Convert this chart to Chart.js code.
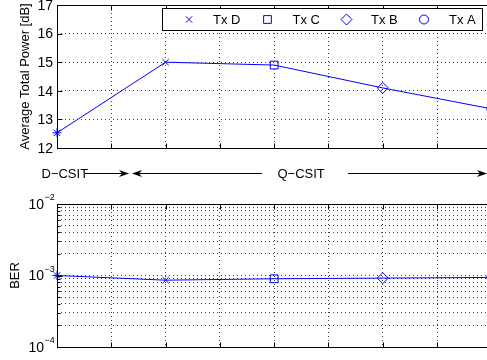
<!DOCTYPE html>
<html>
<head>
<meta charset="utf-8">
<script src="https://cdn.jsdelivr.net/npm/chart.js@4.4.0/dist/chart.umd.min.js"></script>
<style>
  body { margin: 0; background: #fff; }
  canvas { display: block; }
</style>
</head>
<body>
<canvas id="powerChart" width="487" height="190"></canvas>
<canvas id="berChart" width="487" height="170"></canvas>
<script>
// dados
const positions = [0, 2, 4, 6, 8];
const powerDb = [12.53, 15.0, 14.9, 14.1, 13.37];
const berValues = [1.0e-3, 8.6e-4, 9.0e-4, 9.2e-4, 9.4e-4];
const markerStyles = ['star', 'crossRot', 'rect', 'rectRot', 'circle'];
const markerSizes = [4.5, 4.5, 5.5, 5.5, 4.5];
const legendNames = ['Tx D', 'Tx C', 'Tx B', 'Tx A'];
const legendStyles = ['crossRot', 'rect', 'rectRot', 'circle'];
const legendSizes = [4.5, 5.5, 5.5, 4.5];
const xGrid = [0, 1, 2, 3, 4, 5, 6, 7];
const powerTicks = [12, 13, 14, 15, 16, 17];
const berMajor = [1e-4, 1e-3, 1e-2];
const berExp = ['−4', '−3', '−2'];
const berGrid = [1e-4, 2e-4, 3e-4, 4e-4, 5e-4, 6e-4, 7e-4, 8e-4, 9e-4,
                 1e-3, 2e-3, 3e-3, 4e-3, 5e-3, 6e-3, 7e-3, 8e-3, 9e-3, 1e-2];

const blue = '#0000ff';
const fontFamily = '"Liberation Sans", Arial, Helvetica, sans-serif';
const gridOpts = { color: 'rgba(0,0,0,0.75)', lineWidth: 1, drawTicks: false };
const borderOpts = { display: false, dash: [1, 3] };

// caixa do eixo com marcas para dentro (estilo MATLAB)
function drawFrame(chart, yMajor, yMinor) {
    const { ctx, chartArea: a, scales } = chart;
    const L = Math.round(a.left) + 0.5;
    const T = Math.round(a.top) + 0.5;
    const B = Math.round(a.bottom) + 0.5;
    const R = a.right + 5;
    ctx.save();
    ctx.strokeStyle = '#000';
    ctx.lineWidth = 1;
    ctx.beginPath();
    ctx.moveTo(R, T); ctx.lineTo(L, T); ctx.lineTo(L, B); ctx.lineTo(R, B);
    xGrid.forEach(v => {
        const x = Math.round(scales.x.getPixelForValue(v)) + 0.5;
        ctx.moveTo(x, T); ctx.lineTo(x, T + 5);
        ctx.moveTo(x, B); ctx.lineTo(x, B - 5);
    });
    yMajor.forEach(v => {
        const y = Math.round(scales.y.getPixelForValue(v)) + 0.5;
        ctx.moveTo(L, y); ctx.lineTo(L + 5, y);
    });
    yMinor.forEach(v => {
        const y = Math.round(scales.y.getPixelForValue(v)) + 0.5;
        ctx.moveTo(L, y); ctx.lineTo(L + 3, y);
    });
    ctx.stroke();
    ctx.restore();
}

function drawArrow(ctx, x1, x2, y) {
    const dir = Math.sign(x2 - x1);
    ctx.beginPath();
    ctx.moveTo(x1, y);
    ctx.lineTo(x2 - dir * 7, y);
    ctx.stroke();
    ctx.beginPath();
    ctx.moveTo(x2, y);
    ctx.lineTo(x2 - dir * 10, y - 3.5);
    ctx.lineTo(x2 - dir * 7, y);
    ctx.lineTo(x2 - dir * 10, y + 3.5);
    ctx.closePath();
    ctx.fill();
}

const powerPlugin = {
    id: 'powerDecor',
    afterDraw(chart) {
        const { ctx, scales } = chart;
        drawFrame(chart, powerTicks, []);
        ctx.save();
        ctx.fillStyle = '#000';
        ctx.font = '14px ' + fontFamily;
        ctx.textAlign = 'right';
        ctx.textBaseline = 'middle';
        powerTicks.forEach(v => {
            ctx.fillText(String(v), 53, scales.y.getPixelForValue(v) + 1);
        });

        // título do eixo y
        ctx.save();
        ctx.translate(25, (chart.chartArea.top + chart.chartArea.bottom) / 2);
        ctx.rotate(-Math.PI / 2);
        ctx.font = '13px ' + fontFamily;
        ctx.textAlign = 'center';
        ctx.fillText('Average Total Power [dB]', 0, 0);
        ctx.restore();

        // legenda
        ctx.fillStyle = '#fff';
        ctx.fillRect(162, 8, 320, 22);
        ctx.strokeStyle = '#000';
        ctx.lineWidth = 1;
        ctx.strokeRect(162.5, 8.5, 320, 22);
        const markX = [189, 267.5, 346.5, 424];
        const textX = [213, 292.5, 371, 449];
        ctx.font = '13px ' + fontFamily;
        ctx.textAlign = 'left';
        legendNames.forEach((name, i) => {
            ctx.strokeStyle = blue;
            ctx.fillStyle = 'rgba(0,0,0,0)';
            Chart.helpers.drawPoint(ctx, {
                pointStyle: legendStyles[i], radius: legendSizes[i], rotation: 0, borderWidth: 1
            }, markX[i], 19.5);
            ctx.fillStyle = '#000';
            ctx.fillText(name, textX[i], 20);
        });

        // anotações D-CSIT / Q-CSIT
        ctx.fillStyle = '#000';
        ctx.strokeStyle = '#000';
        ctx.fillText('D−CSIT', 41.5, 174);
        ctx.fillText('Q−CSIT', 277.5, 174);
        drawArrow(ctx, 85, 129, 173.5);
        drawArrow(ctx, 262, 132, 173.5);
        drawArrow(ctx, 348, 487, 173.5);
        ctx.restore();
    }
};

const berPlugin = {
    id: 'berDecor',
    afterDraw(chart) {
        const { ctx, scales } = chart;
        drawFrame(chart, berMajor, berGrid);
        ctx.save();
        ctx.fillStyle = '#000';
        ctx.textBaseline = 'middle';
        berMajor.forEach((v, i) => {
            const y = scales.y.getPixelForValue(v);
            ctx.font = '14px ' + fontFamily;
            ctx.textAlign = 'right';
            ctx.fillText('10', 44, y + 1);
            ctx.font = '9px ' + fontFamily;
            ctx.textAlign = 'left';
            ctx.fillText(berExp[i], 44.5, y - 6);
        });
        ctx.save();
        ctx.translate(15, (chart.chartArea.top + chart.chartArea.bottom) / 2);
        ctx.rotate(-Math.PI / 2);
        ctx.font = '13px ' + fontFamily;
        ctx.textAlign = 'center';
        ctx.fillText('BER', 0, 0);
        ctx.restore();
        ctx.restore();
    }
};

function baseDataset(values) {
    return {
        data: positions.map((x, i) => ({ x: x, y: values[i] })),
        showLine: true,
        borderColor: blue,
        borderWidth: 1,
        tension: 0,
        pointStyle: markerStyles,
        pointRadius: markerSizes,
        pointBorderColor: blue,
        pointBackgroundColor: 'rgba(0,0,0,0)',
        pointBorderWidth: 1,
        clip: false,
    };
}

function xScale(bottomSpace) {
    return {
        type: 'linear',
        min: 0,
        max: 7.92,
        afterBuildTicks: s => { s.ticks = xGrid.map(v => ({ value: v })); },
        afterFit: s => { s.height = bottomSpace; },
        ticks: { display: false },
        grid: gridOpts,
        border: borderOpts,
    };
}

new Chart(document.querySelector('#powerChart').getContext('2d'), {
    type: 'scatter',
    data: { datasets: [baseDataset(powerDb)] },
    options: {
        responsive: false,
        devicePixelRatio: 1,
        animation: false,
        layout: { autoPadding: false, padding: { left: 0, top: 5, right: 0, bottom: 0 } },
        plugins: { legend: { display: false }, tooltip: { enabled: false } },
        scales: {
            x: xScale(42),
            y: {
                type: 'linear',
                min: 12,
                max: 17,
                afterBuildTicks: s => { s.ticks = powerTicks.map(v => ({ value: v })); },
                afterFit: s => { s.width = 57; },
                ticks: { display: false },
                grid: gridOpts,
                border: borderOpts,
            },
        },
    },
    plugins: [powerPlugin],
});

new Chart(document.querySelector('#berChart').getContext('2d'), {
    type: 'scatter',
    data: { datasets: [baseDataset(berValues)] },
    options: {
        responsive: false,
        devicePixelRatio: 1,
        animation: false,
        layout: { autoPadding: false, padding: { left: 0, top: 14, right: 0, bottom: 0 } },
        plugins: { legend: { display: false }, tooltip: { enabled: false } },
        scales: {
            x: xScale(13),
            y: {
                type: 'logarithmic',
                min: 1e-4,
                max: 1e-2,
                afterBuildTicks: s => { s.ticks = berGrid.map(v => ({ value: v })); },
                afterFit: s => { s.width = 57; },
                ticks: { display: false },
                grid: gridOpts,
                border: borderOpts,
            },
        },
    },
    plugins: [berPlugin],
});
</script>
</body>
</html>
